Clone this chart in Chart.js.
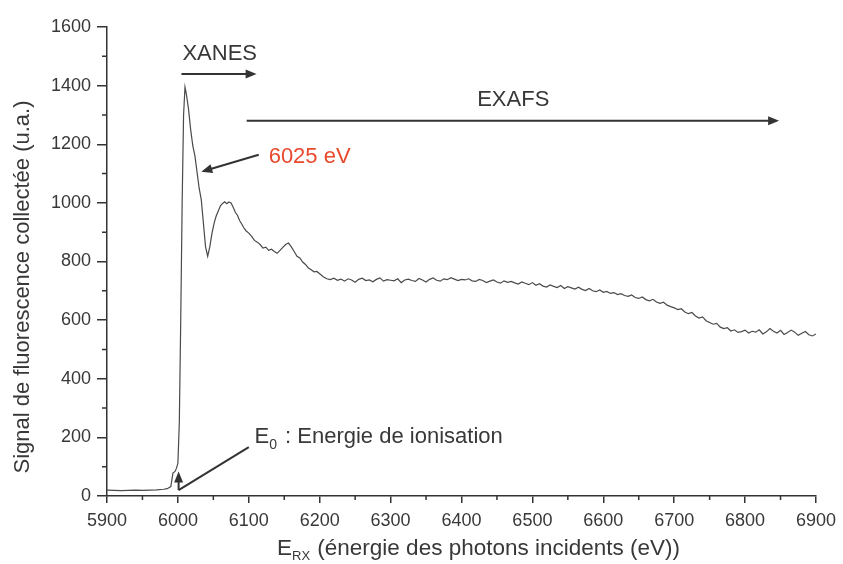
<!DOCTYPE html>
<html>
<head>
<meta charset="utf-8">
<script src="https://cdn.jsdelivr.net/npm/chart.js@4.4.0/dist/chart.umd.min.js"></script>
<style>
  html, body { margin: 0; padding: 0; background: #fff; }
</style>
</head>
<body>
<canvas id="spectre" width="843" height="564"></canvas>
<script>
// energies (eV) et signal de fluorescence
const energie = [
  5900,5910,5920,5930,5940,5950,5960,5970,5980,5985,
  5990,5993,5996,5998,6000,6002,6004,6006,6008,6010,
  6012,6015,6018,6021,6024,6027,6030,6033,6036,6039,
  6042,6045,6048,6051,6054,6057,6060,6063,6066,6069,
  6072,6075,6078,6081,6084,6087,6090,6093,6096,6100,
  6104,6108,6112,6116,6120,6124,6128,6132,6136,6140,
  6144,6148,6152,6156,6160,6164,6168,6172,6176,6180,
  6184,6188,6192,6196,6200,6205,
  6210,6215,6220,6225,6230,6235,6240,6245,6250,6255,6260,6265,6270,6275,6280,6285,6290,6295,6300,
  6305,6310,6315,6320,6325,6330,6335,6340,6345,6350,6355,6360,6365,6370,6375,6380,6385,6390,6395,6400,
  6405,6410,6415,6420,6425,6430,6435,6440,6445,6450,6455,6460,6465,6470,6475,6480,6485,6490,6495,6500,
  6505,6510,6515,6520,6525,6530,6535,6540,6545,6550,6555,6560,6565,6570,6575,6580,6585,6590,6595,6600,
  6605,6610,6615,6620,6625,6630,6635,6640,6645,6650,6655,6660,6665,6670,6675,6680,6685,6690,6695,6700,
  6705,6710,6715,6720,6725,6730,6735,6740,6745,6750,6755,6760,6765,6770,6775,6780,6785,6790,6795,6800,
  6805,6810,6815,6820,6825,6830,6835,6840,6845,6850,6855,6860,6865,6870,6875,6880,6885,6890,6895,6900
];
const signal = [
  20,19,18,19,20,19,20,21,23,25,
  32,78,84,95,112,250,600,1000,1300,1395,
  1370,1320,1250,1195,1160,1105,1050,1010,930,850,
  818,850,895,930,955,972,990,998,1004,997,
  1003,1000,985,968,958,940,928,915,905,897,
  886,872,866,858,846,849,838,842,834,828,
  838,848,858,863,850,834,818,812,798,790,
  778,772,765,766,758,748,
  741,738,743,736,740,733,741,737,729,739,743,735,737,731,739,744,733,738,736,
  734,741,728,737,740,735,732,742,737,730,739,744,736,733,741,738,745,740,735,739,
  737,741,734,732,739,735,728,733,737,730,726,734,729,732,727,723,730,726,721,728,
  719,724,716,713,720,715,711,718,708,714,710,706,712,705,701,708,700,697,703,695,
  698,691,694,687,690,684,681,686,677,674,679,670,666,671,662,657,661,651,646,642,
  636,639,628,622,626,614,607,611,598,592,586,589,576,571,574,563,567,558,561,566,
  556,562,559,567,553,560,571,562,556,565,551,558,566,559,548,555,561,550,546,553
];

const xTicks = [5900,6000,6100,6200,6300,6400,6500,6600,6700,6800,6900];
const xMinor = [5950,6050,6150,6250,6350,6450,6550,6650,6750,6850];
const yTicks = [0,200,400,600,800,1000,1200,1400,1600];
const yMinor = [100,300,500,700,900,1100,1300,1500];

const police = '"Liberation Sans", Arial, Helvetica, sans-serif';
const gris = '#383838';

function fleche(ctx, x1, y1, x2, y2) {
  const a = Math.atan2(y2 - y1, x2 - x1), L = 11, W = 4.5;
  ctx.beginPath();
  ctx.moveTo(x1, y1);
  ctx.lineTo(x2 - Math.cos(a) * L * 0.8, y2 - Math.sin(a) * L * 0.8);
  ctx.stroke();
  ctx.beginPath();
  ctx.moveTo(x2, y2);
  ctx.lineTo(x2 - Math.cos(a) * L - Math.sin(a) * W, y2 - Math.sin(a) * L + Math.cos(a) * W);
  ctx.lineTo(x2 - Math.cos(a) * L + Math.sin(a) * W, y2 - Math.sin(a) * L - Math.cos(a) * W);
  ctx.closePath();
  ctx.fill();
}

const decor = {
  id: 'decor',
  afterDraw(chart) {
    const ctx = chart.ctx, sx = chart.scales.x, sy = chart.scales.y;
    const X = v => sx.getPixelForValue(v), Y = v => sy.getPixelForValue(v);
    ctx.save();
    ctx.strokeStyle = '#333';
    ctx.fillStyle = '#333';
    ctx.lineWidth = 1.5;

    // petites graduations
    ctx.beginPath();
    xMinor.forEach(v => { ctx.moveTo(X(v), sy.bottom); ctx.lineTo(X(v), sy.bottom + 4); });
    yMinor.forEach(v => { ctx.moveTo(sx.left, Y(v)); ctx.lineTo(sx.left - 5, Y(v)); });
    ctx.stroke();

    // titres des axes
    ctx.fillStyle = gris;
    ctx.font = '22px ' + police;
    ctx.textBaseline = 'middle';
    ctx.textAlign = 'center';
    ctx.save();
    ctx.translate(23, 287);
    ctx.rotate(-Math.PI / 2);
    ctx.fillText('Signal de fluorescence collectée (u.a.)', 0, 0);
    ctx.restore();

    ctx.textAlign = 'left';
    ctx.textBaseline = 'alphabetic';
    let x0 = 277, b = 555;
    ctx.font = '22.5px ' + police;
    ctx.fillText('E', x0, b);
    x0 += ctx.measureText('E').width;
    ctx.font = '13px ' + police;
    ctx.fillText('RX', x0, b + 5);
    x0 += ctx.measureText('RX').width + 1;
    ctx.font = '22.5px ' + police;
    ctx.fillText(' (énergie des photons incidents (eV))', x0, b);

    // annotations
    ctx.lineWidth = 2;
    ctx.font = '22px ' + police;
    ctx.textAlign = 'center';
    ctx.fillStyle = gris;
    ctx.fillText('XANES', X(6059), Y(1488));
    ctx.fillStyle = '#333';
    fleche(ctx, X(6005), Y(1440), X(6111), Y(1440));

    ctx.fillStyle = gris;
    ctx.fillText('EXAFS', X(6473), Y(1331));
    ctx.fillStyle = '#333';
    fleche(ctx, X(6097), Y(1280), X(6848), Y(1280));

    ctx.textAlign = 'left';
    ctx.fillStyle = '#e8492d';
    ctx.fillText('6025 eV', X(6128), Y(1137));
    ctx.fillStyle = '#333';
    fleche(ctx, X(6114), Y(1164), X(6033), Y(1106));

    // E0
    ctx.beginPath();
    ctx.moveTo(X(6100), Y(167));
    ctx.lineTo(X(6001), Y(20));
    ctx.stroke();
    fleche(ctx, X(6001), Y(20), X(6001), Y(84));
    ctx.fillStyle = gris;
    let e0 = X(6108), eb = Y(181);
    ctx.fillText('E', e0, eb);
    e0 += ctx.measureText('E').width;
    ctx.font = '14px ' + police;
    ctx.fillText('0', e0, eb + 6);
    e0 += ctx.measureText('0').width + 2;
    ctx.font = '22px ' + police;
    ctx.fillText(' : Energie de ionisation', e0, eb);
    ctx.restore();
  }
};

new Chart(document.getElementById('spectre'), {
  type: 'line',
  data: {
    datasets: [{
      data: energie.map((e, i) => ({ x: e, y: signal[i] })),
      borderColor: '#4a4a4a',
      borderWidth: 1.2,
      pointRadius: 0,
      tension: 0
    }]
  },
  options: {
    responsive: false,
    animation: false,
    devicePixelRatio: 1,
    layout: { padding: { top: 27, right: 21, left: 0, bottom: 0 } },
    plugins: { legend: { display: false }, tooltip: { enabled: false } },
    scales: {
      x: {
        type: 'linear',
        min: 5900, max: 6900,
        afterBuildTicks: s => { s.ticks = xTicks.map(v => ({ value: v })); },
        afterFit: s => { s.height = 68; },
        border: { display: true, color: '#333', width: 1.5 },
        grid: { drawOnChartArea: false, drawTicks: true, tickLength: 7, color: '#333', lineWidth: 1.5 },
        ticks: { color: gris, font: { family: police, size: 18 }, padding: 7, maxRotation: 0, callback: v => String(v) }
      },
      y: {
        min: 0, max: 1600,
        afterBuildTicks: s => { s.ticks = yTicks.map(v => ({ value: v })); },
        afterFit: s => { s.width = 107; },
        border: { display: true, color: '#333', width: 1.5 },
        grid: { drawOnChartArea: false, drawTicks: true, tickLength: 10, color: '#333', lineWidth: 1.5 },
        ticks: { color: gris, font: { family: police, size: 18 }, padding: 6, callback: v => String(v) }
      }
    }
  },
  plugins: [decor]
});
</script>
</body>
</html>
